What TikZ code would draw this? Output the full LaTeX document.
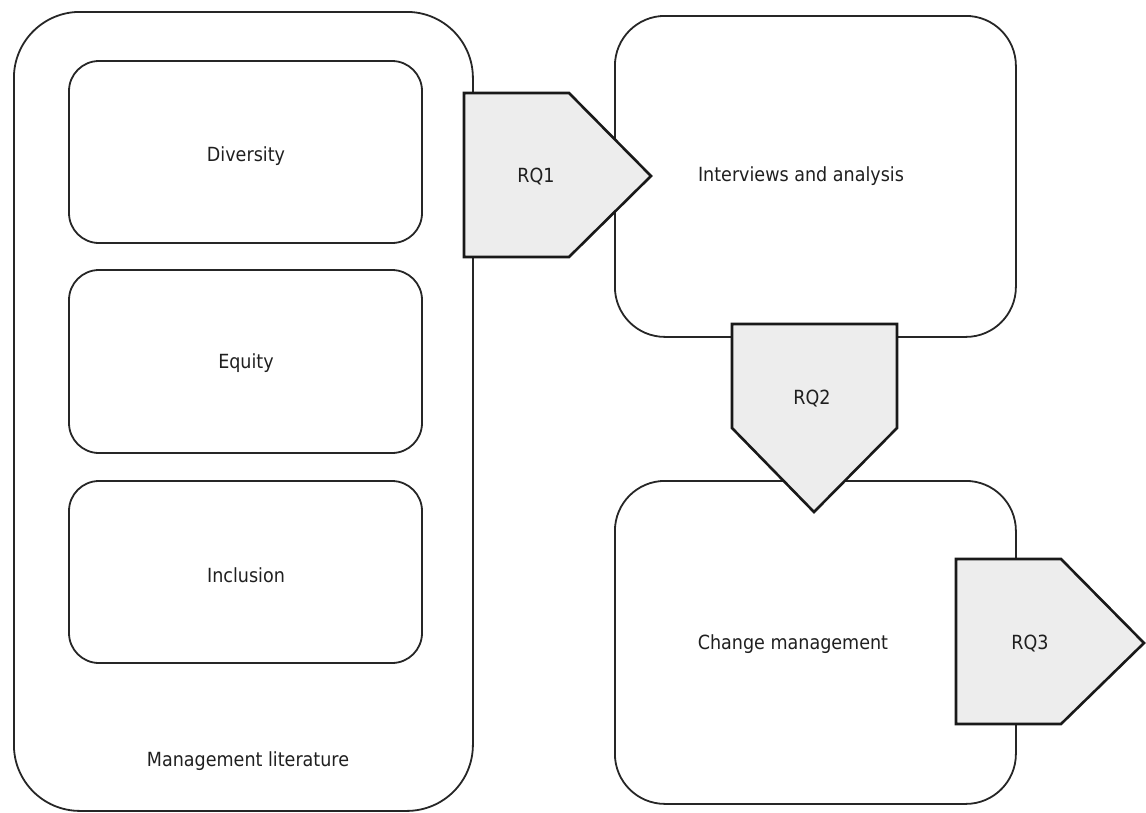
\documentclass[tikz,border=0pt]{standalone}
\usepackage{fontspec}
\setmainfont{DejaVu Sans Condensed}
\begin{document}
\begin{tikzpicture}[x=1pt,y=-1pt,
  box/.style={draw=black!85, line width=1.8pt, rounded corners=#1, inner sep=0pt},
  rqshape/.style={draw=black!90, fill=black!7, line width=2.6pt, line join=miter},
  txt/.style={text=black!88, font=\fontsize{19.5pt}{23pt}\selectfont, inner sep=0pt}]
\useasboundingbox (0,0) rectangle (1146,812);
% left container
\node[box=66pt, minimum width=459pt, minimum height=799pt, anchor=north west] (lit) at (13,11) {};
\node[box=30pt, minimum width=353pt, minimum height=182pt] (div) at (245.5,152) {};
\node[txt] (divlabel) at (246,156) {Diversity};
\node[box=30pt, minimum width=353pt, minimum height=183pt] (eq) at (245.5,361.5) {};
\node[txt] (eqlabel) at (246,363) {Equity};
\node[box=30pt, minimum width=353pt, minimum height=182pt] (inc) at (245.5,572) {};
\node[txt] (inclabel) at (246,575) {Inclusion};
\node[txt] (litlabel) at (248,761) {Management literature};
% right boxes
\node[box=50pt, minimum width=401pt, minimum height=321pt, anchor=north west] (int) at (614,15) {};
\node[txt] (intlabel) at (801,176) {Interviews and analysis};
\node[box=50pt, minimum width=401pt, minimum height=323pt, anchor=north west] (chg) at (614,480) {};
\node[txt] (chglabel) at (793,644) {Change management};
% RQ arrows
\draw[rqshape] (464,93) -- (569,93) -- (651,176) -- (569,257) -- (464,257) -- cycle;
\node[txt] (rq1) at (536,177) {RQ1};
\draw[rqshape] (732,324) -- (897,324) -- (897,428) -- (814,512) -- (732,428) -- cycle;
\node[txt] (rq2) at (812,399) {RQ2};
\draw[rqshape] (956,559) -- (1061,559) -- (1144,643) -- (1061,724) -- (956,724) -- cycle;
\node[txt] (rq3) at (1030,644) {RQ3};
\end{tikzpicture}
\end{document}
